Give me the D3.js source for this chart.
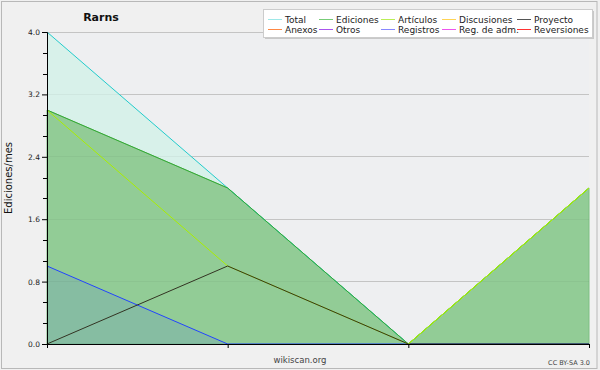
<!DOCTYPE html>
<html><head><meta charset="utf-8">
<script src="https://cdn.jsdelivr.net/npm/d3@7"></script>
<style>body{margin:0;background:#fff}svg{display:block}text{font-family:"DejaVu Sans",sans-serif}</style>
</head><body><svg id="c" width="600" height="370"></svg>
<script>
const categories = ["m1","m2","m3","m4"];
const total     = [4, 2, 0, 2];
const ediciones = [3, 2, 0, 2];
const articulos = [3, 1, 0, 2];
const proyecto  = [0, 1, 0, 0];
const registros = [1, 0, 0, 0];
const yTicks = [0, 0.8, 1.6, 2.4, 3.2, 4.0];
const legendNames = ["Total","Ediciones","Artículos","Discusiones","Proyecto","Anexos","Otros","Registros","Reg. de adm.","Reversiones"];
const legendColors = ["#9ee8e8","#77cc77","#bbee55","#ffd455","#555555","#ff8844","#aa55ee","#8888ff","#ee55ee","#ff3333"];

const svg = d3.select("#c");
svg.append("rect").attr("x",0).attr("y",0).attr("width",600).attr("height",370).attr("fill","#f0f0f0");
svg.append("rect").attr("x",1.5).attr("y",1.5).attr("width",595.5).attr("height",367).attr("fill","none").attr("stroke","#b8b8b8");

const x = d3.scalePoint().domain(categories).range([47, 589]);
const y = d3.scaleLinear().domain([0, 4]).range([344, 32]);

svg.append("rect").attr("x",47).attr("y",32).attr("width",542).attr("height",312).attr("fill","#eeeff1");

// grid
svg.append("g").selectAll("line").data(yTicks.filter(d=>d>0)).join("line")
  .attr("x1",47).attr("x2",589).attr("y1",d=>y(d)).attr("y2",d=>y(d))
  .attr("stroke","#cccccc").attr("stroke-width",1).attr("shape-rendering","crispEdges");

const area = d3.area().x((d,i)=>x(categories[i])).y0(y(0)).y1(d=>y(d));
const line = d3.line().x((d,i)=>x(categories[i])).y(d=>y(d));

svg.append("path").datum(total).attr("d",area).attr("fill","#d8f1ea");
svg.append("path").datum(ediciones).attr("d",area).attr("fill","#92cc96");
svg.append("path").datum(ediciones).attr("d",area).attr("fill","none").attr("stroke","#7dbf82").attr("stroke-width",1);
svg.append("path").datum(registros).attr("d",area).attr("fill","#3355ff").attr("fill-opacity",0.12);

svg.append("g").selectAll("line").data(yTicks.filter(d=>d>0)).join("line")
  .attr("x1",47).attr("x2",589).attr("y1",d=>y(d)).attr("y2",d=>y(d))
  .attr("stroke","#000").attr("stroke-opacity",0.04).attr("shape-rendering","crispEdges");

const lines = [[total,"#22cccc"],[ediciones,"#33aa33"],[registros,"#2244ff"],[articulos,"#aaee00"],[proyecto,"#333322"]];
lines.forEach(([d,c])=>{
  svg.append("path").datum(d).attr("d",line).attr("fill","none").attr("stroke",c).attr("stroke-width",1);
});
// articulos visible on top where it rises at the end
svg.append("path").datum(articulos.slice(2)).attr("d",d3.line().x((d,i)=>x(categories[i+2])).y(d=>y(d)))
  .attr("fill","none").attr("stroke","#aaee00").attr("stroke-width",1);

// axes
const yAxis = d3.axisLeft(y).tickValues(yTicks).tickFormat(d3.format(".1f")).tickSize(5).tickPadding(2);
const gy = svg.append("g").attr("transform","translate(47,0)").call(yAxis);
gy.selectAll("text").attr("font-size","7.5px").attr("fill","#222").attr("font-family","DejaVu Sans");
gy.select(".domain").attr("stroke","#000");
const minor = [];
for (let i=0;i<5;i++){ for (let k=1;k<3;k++) minor.push(yTicks[i] + k*0.8/3); }
gy.append("g").selectAll("line").data(minor).join("line")
  .attr("x1",-4).attr("x2",0).attr("y1",d=>Math.round(y(d))+0.5).attr("y2",d=>Math.round(y(d))+0.5).attr("stroke","#000");

const xAxis = d3.axisBottom(x).tickSize(4).tickFormat("");
const gx = svg.append("g").attr("transform","translate(0,344)").call(xAxis);
gx.select(".domain").attr("stroke","#000");

// title & labels
svg.append("text").attr("x",101).attr("y",21).attr("text-anchor","middle").attr("font-size","11px").attr("font-weight","bold").attr("fill","#111").text("Rarns");
svg.append("text").attr("transform","translate(12,178) rotate(-90)").attr("text-anchor","middle").attr("font-size","10px").attr("fill","#111").text("Ediciones/mes");
svg.append("text").attr("x",300).attr("y",363).attr("text-anchor","middle").attr("font-size","8.5px").attr("fill","#444").text("wikiscan.org");
svg.append("text").attr("x",590).attr("y",365).attr("text-anchor","end").attr("font-size","6.5px").attr("fill","#444").text("CC BY-SA 3.0");

// legend
svg.append("rect").attr("x",265).attr("y",11).attr("width",329).attr("height",28).attr("fill","#c8c8c8");
svg.append("rect").attr("x",263.5).attr("y",9.5).attr("width",329).attr("height",28).attr("fill","#ffffff").attr("stroke","#cccccc");
const colLine = [268, 319, 381, 442, 517];
const lg = svg.append("g");
legendNames.forEach((n,i)=>{
  const col = i%5, row = Math.floor(i/5);
  const ly = 19.5 + row*10;
  lg.append("line").attr("x1",colLine[col]).attr("x2",colLine[col]+14).attr("y1",ly).attr("y2",ly).attr("stroke",legendColors[i]).attr("stroke-width",1);
  lg.append("text").attr("x",colLine[col]+17).attr("y",ly+3.5).attr("font-size","9px").attr("fill","#222").text(n);
});
</script></body></html>
